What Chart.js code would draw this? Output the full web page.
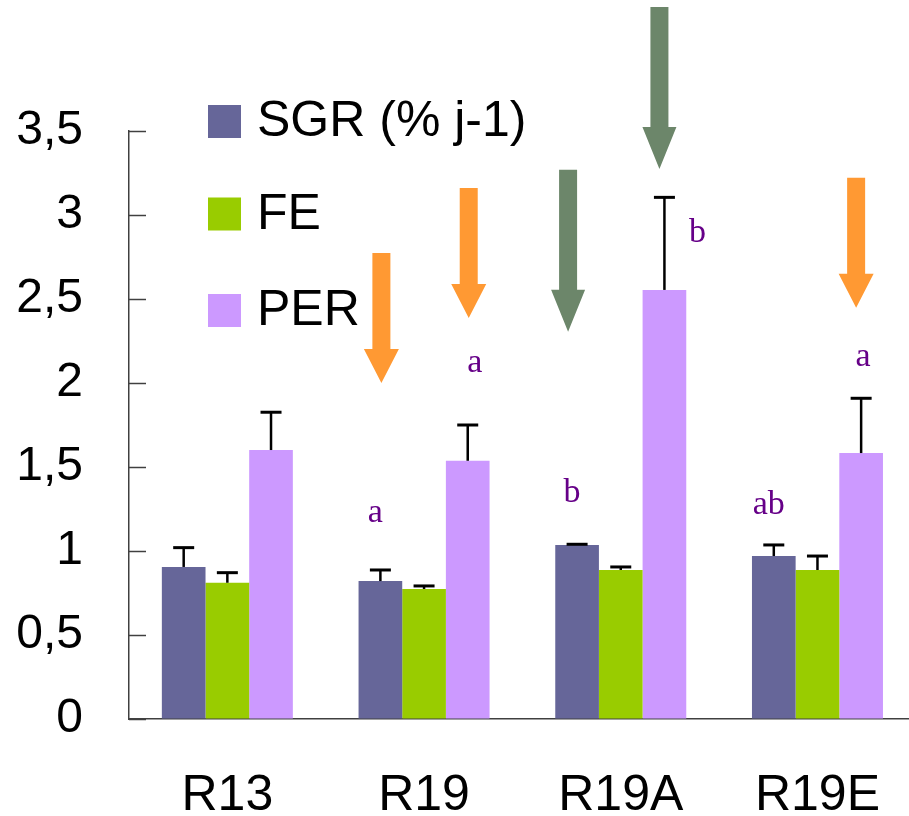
<!DOCTYPE html>
<html>
<head>
<meta charset="utf-8">
<script src="https://cdn.jsdelivr.net/npm/chart.js@4.4.0/dist/chart.umd.min.js"></script>
<style>
  html, body { margin: 0; padding: 0; background: #fff; overflow: hidden; }
  canvas { display: block; }
</style>
</head>
<body>
<canvas id="grafico" width="927" height="816"></canvas>
<script>
// Categorías y series
const categorias = ['R13', 'R19', 'R19A', 'R19E'];
const nombresSeries = ['SGR (% j-1)', 'FE', 'PER'];
const valoresSGR = [0.905, 0.821, 1.036, 0.970];
const valoresFE = [0.811, 0.774, 0.887, 0.887];
const valoresPER = [1.601, 1.537, 2.554, 1.583];

// Desviaciones (solo hacia arriba)
const errSGR = [0.115, 0.066, 0.004, 0.066];
const errFE = [0.060, 0.018, 0.018, 0.083];
const errPER = [0.225, 0.213, 0.551, 0.326];

// Letras de significancia y su altura (en unidades del eje)
const letrasSGR = ['', 'a', 'b', 'ab'];
const alturaLetrasSGR = [null, 1.226, 1.345, 1.274];
const letrasPER = ['', 'a', 'b', 'a'];
const alturaLetrasPER = [null, 2.119, 2.893, 2.157];

// Ticks del eje Y
const ticksY = [0, 0.5, 1, 1.5, 2, 2.5, 3, 3.5];

// Flechas: categoría, serie, valor de la punta, tipo
const flechas = [
    { cat: 1, serie: 0, punta: 2.0, tipo: 'naranja' },
    { cat: 1, serie: 2, punta: 2.387, tipo: 'naranja' },
    { cat: 2, serie: 0, punta: 2.305, tipo: 'verde' },
    { cat: 2, serie: 2, punta: 3.274, tipo: 'verde' },
    { cat: 3, serie: 2, punta: 2.448, tipo: 'naranja' }
];

const colores = ['#666699', '#99CC00', '#CC99FF'];
const estiloFlecha = {
    naranja: { color: '#FF9933', largo: 130, cabeza: 34, ancho: 18, anchoCabeza: 35 },
    verde: { color: '#6C866A', largo: 162, cabeza: 42, ancho: 18, anchoCabeza: 34 }
};
const desplazFlecha = { '1-0': 1, '1-2': 1, '2-0': -9, '2-2': -5, '3-2': -5 };
const desplazLetraSGR = -5;
const desplazLetraPER = [0, 7, 33, 2];

const FUENTE = '"Liberation Sans", Arial, sans-serif';

function dibujarFlecha(ctx, x, yPunta, e) {
    const yTop = yPunta - e.largo;
    const yCab = yPunta - e.cabeza;
    ctx.fillStyle = e.color;
    ctx.beginPath();
    ctx.moveTo(x - e.ancho / 2, yTop);
    ctx.lineTo(x + e.ancho / 2, yTop);
    ctx.lineTo(x + e.ancho / 2, yCab);
    ctx.lineTo(x + e.anchoCabeza / 2, yCab);
    ctx.lineTo(x, yPunta);
    ctx.lineTo(x - e.anchoCabeza / 2, yCab);
    ctx.lineTo(x - e.ancho / 2, yCab);
    ctx.closePath();
    ctx.fill();
}

// Plugin: ticks hacia adentro, barras de error, letras, flechas y leyenda
const pluginExtras = {
    id: 'extras',
    afterDatasetsDraw(chart) {
        const ctx = chart.ctx;
        const y = chart.scales.y;
        const area = chart.chartArea;
        ctx.save();

        // ticks del eje Y hacia adentro
        ctx.strokeStyle = '#404040';
        ctx.lineWidth = 1.5;
        y.ticks.forEach(t => {
            const py = Math.round(y.getPixelForValue(t.value)) + 0.5;
            ctx.beginPath();
            ctx.moveTo(area.left, py);
            ctx.lineTo(area.left + 17, py);
            ctx.stroke();
        });

        // barras de error
        ctx.strokeStyle = '#000';
        chart.data.datasets.forEach((ds, i) => {
            const meta = chart.getDatasetMeta(i);
            meta.data.forEach((bar, j) => {
                const yTop = y.getPixelForValue(ds.data[j] + ds.errores[j]);
                ctx.lineWidth = 2.5;
                ctx.beginPath();
                ctx.moveTo(bar.x, bar.y);
                ctx.lineTo(bar.x, yTop);
                ctx.stroke();
                ctx.lineWidth = 3;
                ctx.beginPath();
                ctx.moveTo(bar.x - 10.5, yTop);
                ctx.lineTo(bar.x + 10.5, yTop);
                ctx.stroke();
            });
        });

        // letras
        ctx.fillStyle = '#660088';
        ctx.font = '34px "Liberation Serif", "Times New Roman", serif';
        ctx.textAlign = 'center';
        ctx.textBaseline = 'middle';
        const metaSGR = chart.getDatasetMeta(0);
        const metaPER = chart.getDatasetMeta(2);
        letrasSGR.forEach((l, j) => {
            if (!l) return;
            ctx.fillText(l, metaSGR.data[j].x + desplazLetraSGR, y.getPixelForValue(alturaLetrasSGR[j]));
        });
        letrasPER.forEach((l, j) => {
            if (!l) return;
            ctx.fillText(l, metaPER.data[j].x + desplazLetraPER[j], y.getPixelForValue(alturaLetrasPER[j]));
        });

        // flechas
        flechas.forEach(f => {
            const bar = chart.getDatasetMeta(f.serie).data[f.cat];
            const dx = desplazFlecha[f.cat + '-' + f.serie] || 0;
            dibujarFlecha(ctx, bar.x + dx, y.getPixelForValue(f.punta), estiloFlecha[f.tipo]);
        });

        // leyenda
        const lineas = [136, 228.5, 325];
        ctx.textAlign = 'left';
        ctx.textBaseline = 'alphabetic';
        ctx.font = '50px ' + FUENTE;
        chart.data.datasets.forEach((ds, i) => {
            ctx.fillStyle = ds.backgroundColor;
            ctx.fillRect(208, lineas[i] - 31, 33, 33);
            ctx.fillStyle = '#000';
            ctx.fillText(ds.label, 257, lineas[i]);
        });
        ctx.restore();
    }
};

const ctx = document.getElementById('grafico').getContext('2d');
new Chart(ctx, {
    type: 'bar',
    data: {
        labels: categorias,
        datasets: [
            { label: nombresSeries[0], data: valoresSGR, errores: errSGR, backgroundColor: colores[0] },
            { label: nombresSeries[1], data: valoresFE, errores: errFE, backgroundColor: colores[1] },
            { label: nombresSeries[2], data: valoresPER, errores: errPER, backgroundColor: colores[2] }
        ]
    },
    options: {
        responsive: false,
        animation: false,
        events: [],
        categoryPercentage: 0.666,
        barPercentage: 1.0,
        layout: { padding: { top: 131, right: 0, left: 0, bottom: 0 } },
        plugins: {
            legend: { display: false },
            tooltip: { enabled: false }
        },
        scales: {
            x: {
                grid: { display: false, drawTicks: false },
                border: { display: true, color: '#404040', width: 1.5 },
                ticks: {
                    color: '#000',
                    font: { family: FUENTE, size: 50 },
                    padding: 47,
                    maxRotation: 0
                },
                afterFit: s => { s.height = 97; }
            },
            y: {
                min: 0,
                max: 3.5,
                grid: { drawOnChartArea: false, drawTicks: false },
                border: { display: true, color: '#404040', width: 1.5 },
                afterBuildTicks: s => { s.ticks = ticksY.map(v => ({ value: v })); },
                ticks: {
                    color: '#000',
                    font: { family: FUENTE, size: 48 },
                    padding: 46,
                    callback: v => String(v).replace('.', ',')
                },
                afterFit: s => { s.width = 129; }
            }
        }
    },
    plugins: [pluginExtras]
});
</script>
</body>
</html>
